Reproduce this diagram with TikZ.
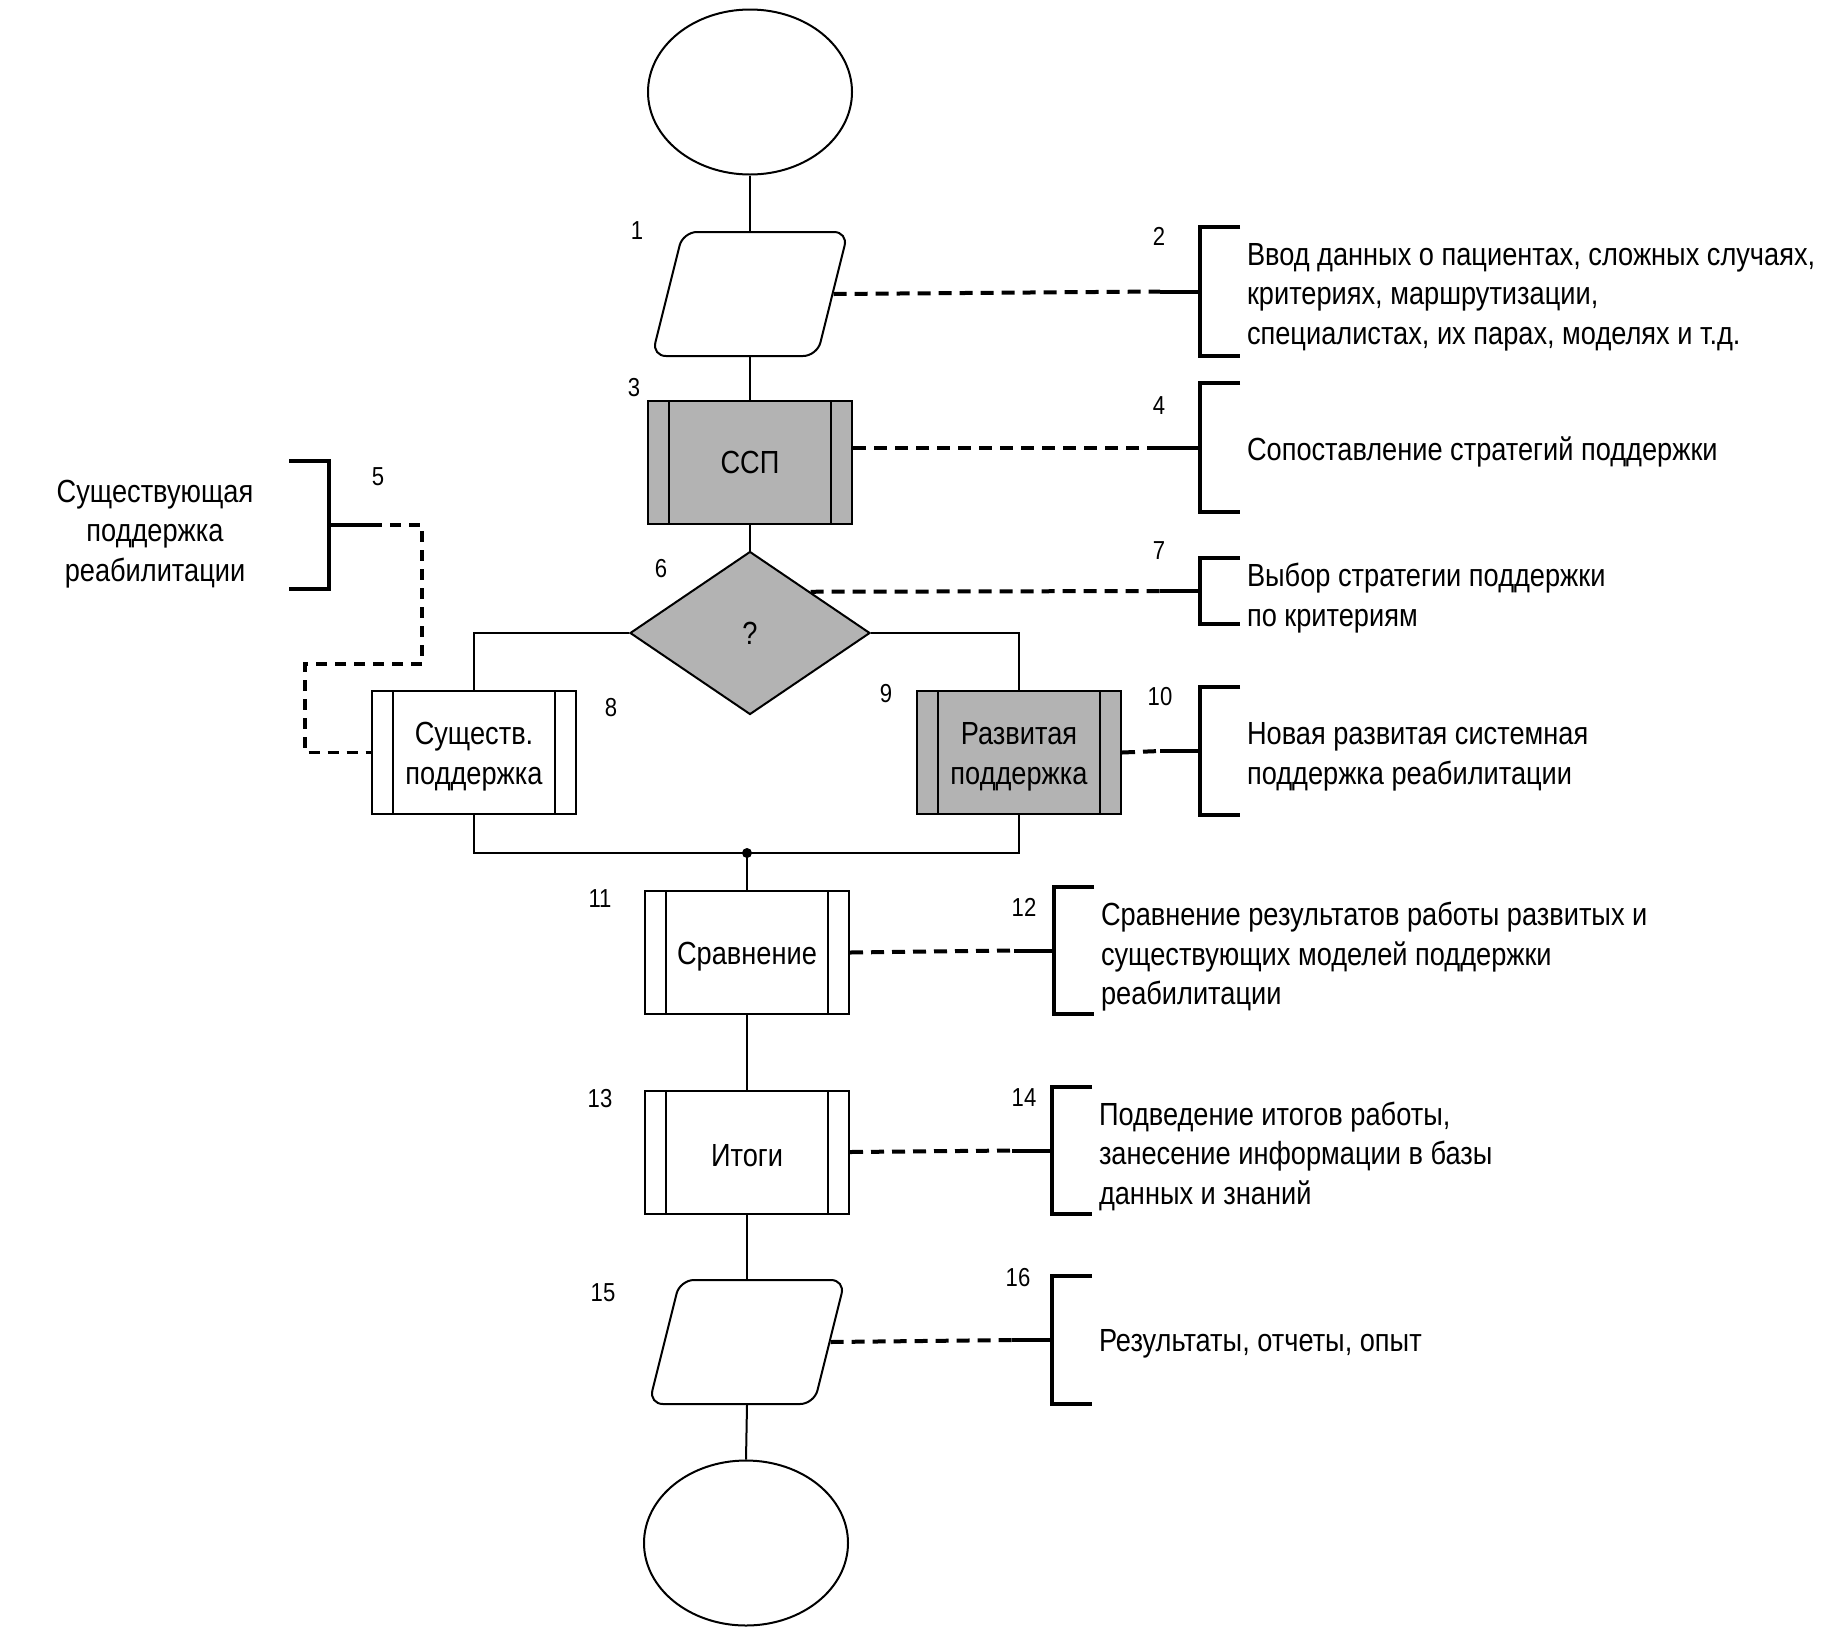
\documentclass[tikz,border=0pt]{standalone}
\usepackage{fontspec}
\setmainfont{Liberation Sans}[FakeStretch=0.85]
\usetikzlibrary{shapes.geometric}
\definecolor{boxgray}{RGB}{179,179,179}

\begin{document}
\begin{tikzpicture}[x=1pt,y=-1pt,line width=2pt,
  txt/.style={font=\fontsize{32}{39.5}\selectfont},
  note/.style={txt,align=left,anchor=west,inner sep=0pt},
  num/.style={font=\fontsize{26}{30}\selectfont,inner sep=0pt},
  term/.style={draw,ellipse,minimum width=204pt,minimum height=165pt},
  io/.style={draw,trapezium,trapezium left angle=77,trapezium right angle=103,
    trapezium stretches=true,minimum width=196pt,minimum height=124pt,
    rounded corners=14pt,inner sep=6pt},
  proc/.style={draw,txt,align=center,minimum width=204pt,minimum height=123pt,inner sep=0pt,
    path picture={
      \draw ([xshift=21pt]path picture bounding box.north west) -- ([xshift=21pt]path picture bounding box.south west);
      \draw ([xshift=-21pt]path picture bounding box.north east) -- ([xshift=-21pt]path picture bounding box.south east);}},
  dec/.style={draw,diamond,fill=boxgray,txt,aspect=1.47,minimum width=240pt,minimum height=163pt,inner sep=0pt},
  brk/.style={line width=4pt},
  lnk/.style={line width=4pt,dash pattern=on 13pt off 8pt}]
\useasboundingbox (0,0) rectangle (1847,1642);

% main column
\node[term] (e1) at (750,92) {};
\node[io] (in1) at (750,294) {};
\node[proc,fill=boxgray] (ssp) at (750,462.5) {ССП};
\node[dec] (q) at (750,633) {?};
\node[proc] (ex) at (474,752.5) {\rule{0pt}{31pt}Существ.\\поддержка};
\node[proc,fill=boxgray] (nw) at (1019,752.5) {\rule{0pt}{31pt}Развитая\\поддержка};
\coordinate (m) at (747,853);
\node[proc] (cmp) at (747,952.5) {\rule{0pt}{31pt}Сравнение};
\node[proc] (res) at (747,1152) {\rule{0pt}{29pt}Итоги};
\node[io] (out) at (747,1342) {};
\node[term] (e2) at (746,1543) {};

\draw (e1.south) -- (in1.north);
\draw (in1.south) -- (ssp.north);
\draw (ssp.south) -- (q.north);
\draw (q.west) -| (ex.north);
\draw (q.east) -| (nw.north);
\draw (ex.south) |- (m) -| (nw.south);
\draw (m) -- (cmp.north);
\fill (m) circle (5);
\draw (cmp.south) -- (res.north);
\draw (res.south) -- (out.north);
\draw (out.south) -- (e2.north);

% numbers
\foreach \n/\px/\py in {1/637/231,2/1159/236,3/634/388,4/1159/406,5/378/477,6/661/569,
  7/1159/551,8/611/708,9/886/694,10/1160/697,11/600/899,12/1024/907,13/600/1099,
  14/1024/1098,15/603/1293,16/1018/1278}{
\node[num] (n\n) at (\px,\py) {\n};
}

% comment brackets
\foreach \n/\bx/\by/\bh in {2/1200/291.5/64.5,4/1200/447.5/64.5,7/1200/591/33,
  10/1200/751/64,12/1054/950.5/63.5,14/1052/1150.5/63.5,16/1052/1340/64}{
\draw[brk] (\bx+40,\by-\bh) -- (\bx,\by-\bh) -- (\bx,\by+\bh) -- (\bx+40,\by+\bh);
\draw[brk] (\bx-40,\by) coordinate (s\n) -- (\bx,\by);
}
\draw[brk] (289,461) -- (329,461) -- (329,589) -- (289,589);
\draw[brk] (329,525) -- (371,525) coordinate (s5);

\draw[lnk] (in1.east) -- (s2);
\draw[lnk] (ssp.east |- s4) -- (s4);
\draw[lnk] (q.north east) -- (s7);
\draw[lnk] (nw.east) -- (s10);
\draw[lnk] (cmp.east) -- (s12);
\draw[lnk] (res.east) -- (s14);
\draw[lnk] (out.east) -- (s16);
\draw[lnk,line width=3.5pt,dash pattern=on 11pt off 8pt] (s5) -- (422,525) -- (422,664)
  -- (305,664) -- (305,752.5) -- (ex.west);

% comment texts
\node[txt,align=center] (t5) at (155,534) {Существующая\\поддержка\\реабилитации};
\node[note] (t2) at (1246,297) {Ввод данных о пациентах, сложных случаях,\\критериях, маршрутизации,\\специалистах, их парах, моделях и т.д.};
\node[note] (t4) at (1246,452) {Сопоставление стратегий поддержки};
\node[note] (t7) at (1246,598) {Выбор стратегии поддержки\\по критериям};
\node[note] (t10) at (1246,757) {Новая развитая системная\\поддержка реабилитации};
\node[note] (t12) at (1100,957) {Сравнение результатов работы развитых и\\существующих моделей поддержки\\реабилитации};
\node[note] (t14) at (1098,1156) {Подведение итогов работы,\\занесение информации в базы\\данных и знаний};
\node[note] (t16) at (1098,1344) {Результаты, отчеты, опыт};
\end{tikzpicture}
\end{document}
